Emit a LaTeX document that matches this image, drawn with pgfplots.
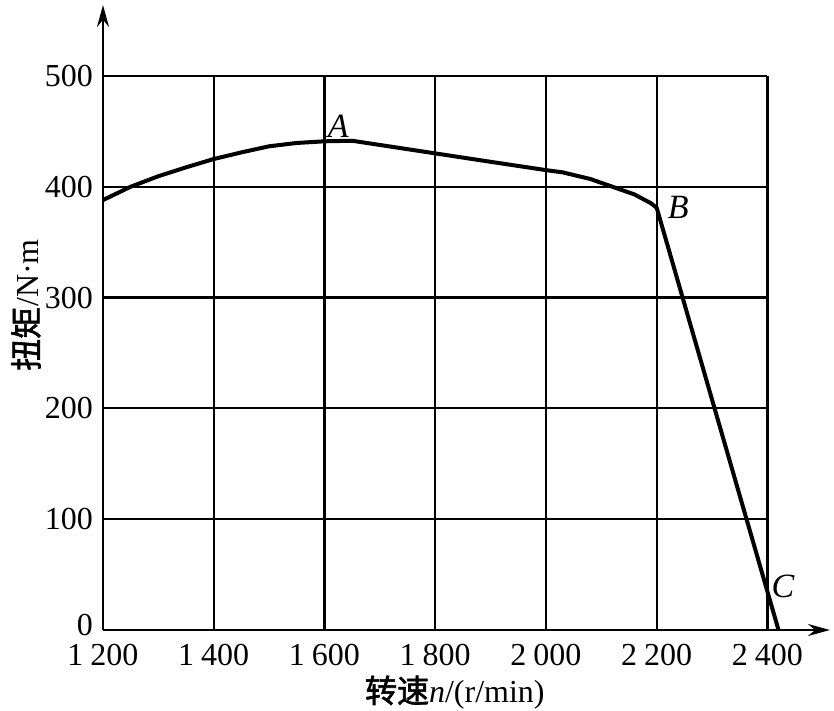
\documentclass[border=0pt]{standalone}
\usepackage{fontspec}
\setmainfont{Liberation Serif}
\newfontfamily\cjk[FakeBold=2]{Noto Sans CJK SC}
\usepackage{pgfplots}
\pgfplotsset{compat=1.18}
\usetikzlibrary{arrows.meta}
\begin{document}
\begin{tikzpicture}
\path[use as bounding box] (0,0) rectangle (834pt,710pt);
\begin{axis}[
  at={(103pt,80pt)}, anchor=south west,
  scale only axis, width=727pt, height=625pt,
  xmin=1200, xmax=2513, ymin=0, ymax=564,
  axis lines=left,
  axis line style={line width=2.4pt, -{Stealth[length=22pt,width=12pt]}},
  major tick length=0pt,
  xtick={1200,1400,1600,1800,2000,2200,2400},
  xticklabels={1\hspace{0.22em}200,1\hspace{0.22em}400,1\hspace{0.22em}600,1\hspace{0.22em}800,2\hspace{0.22em}000,2\hspace{0.22em}200,2\hspace{0.22em}400},
  ytick={0,100,200,300,400,500},
  yticklabels={\raisebox{5pt}[\height][0pt]{0},100,200,300,400,500},
  tick label style={font=\fontsize{32}{36}\selectfont, inner sep=0pt},
  xticklabel style={anchor=north, yshift=-14pt},
  yticklabel style={anchor=east, xshift=-10pt},
  clip=false,
  xlabel={{\cjk 转速}\textit{n}/(r/min)},
  ylabel={{\cjk 扭矩}/N·m},
  label style={font=\fontsize{32}{35}\selectfont},
  x label style={at={(axis description cs:0.484,-0.1)}, anchor=center},
  y label style={at={(axis description cs:-0.106,0.52)}, anchor=center, rotate=0},
]
\pgfplotsinvokeforeach{100,200,300,400,500}{
  \draw[line width=2.2pt] (axis cs:1200,#1) -- (axis cs:2400,#1);
}
\pgfplotsinvokeforeach{1400,1600,1800,2000,2200,2400}{
  \draw[line width=2.2pt] (axis cs:#1,0) -- (axis cs:#1,500);
}
\addplot[line width=4pt, black, line join=round] coordinates {
(1200,388) (1250,400) (1300,409.5) (1350,417.5) (1400,425) (1450,431)
(1500,436.5) (1550,439.5) (1600,441) (1650,441.5) (1775,432) (1900,422.5)
(2000,415) (2030,413) (2080,407) (2120,400) (2160,393) (2190,385) (2200,381)
(2420,0)
};
\node[font=\fontsize{34}{38}\selectfont\itshape] at (axis cs:1625,455) {A};
\node[font=\fontsize{34}{38}\selectfont\itshape] at (axis cs:2239,381) {B};
\node[font=\fontsize{34}{38}\selectfont\itshape] at (axis cs:2428,39) {C};
\end{axis}
\end{tikzpicture}
\end{document}
